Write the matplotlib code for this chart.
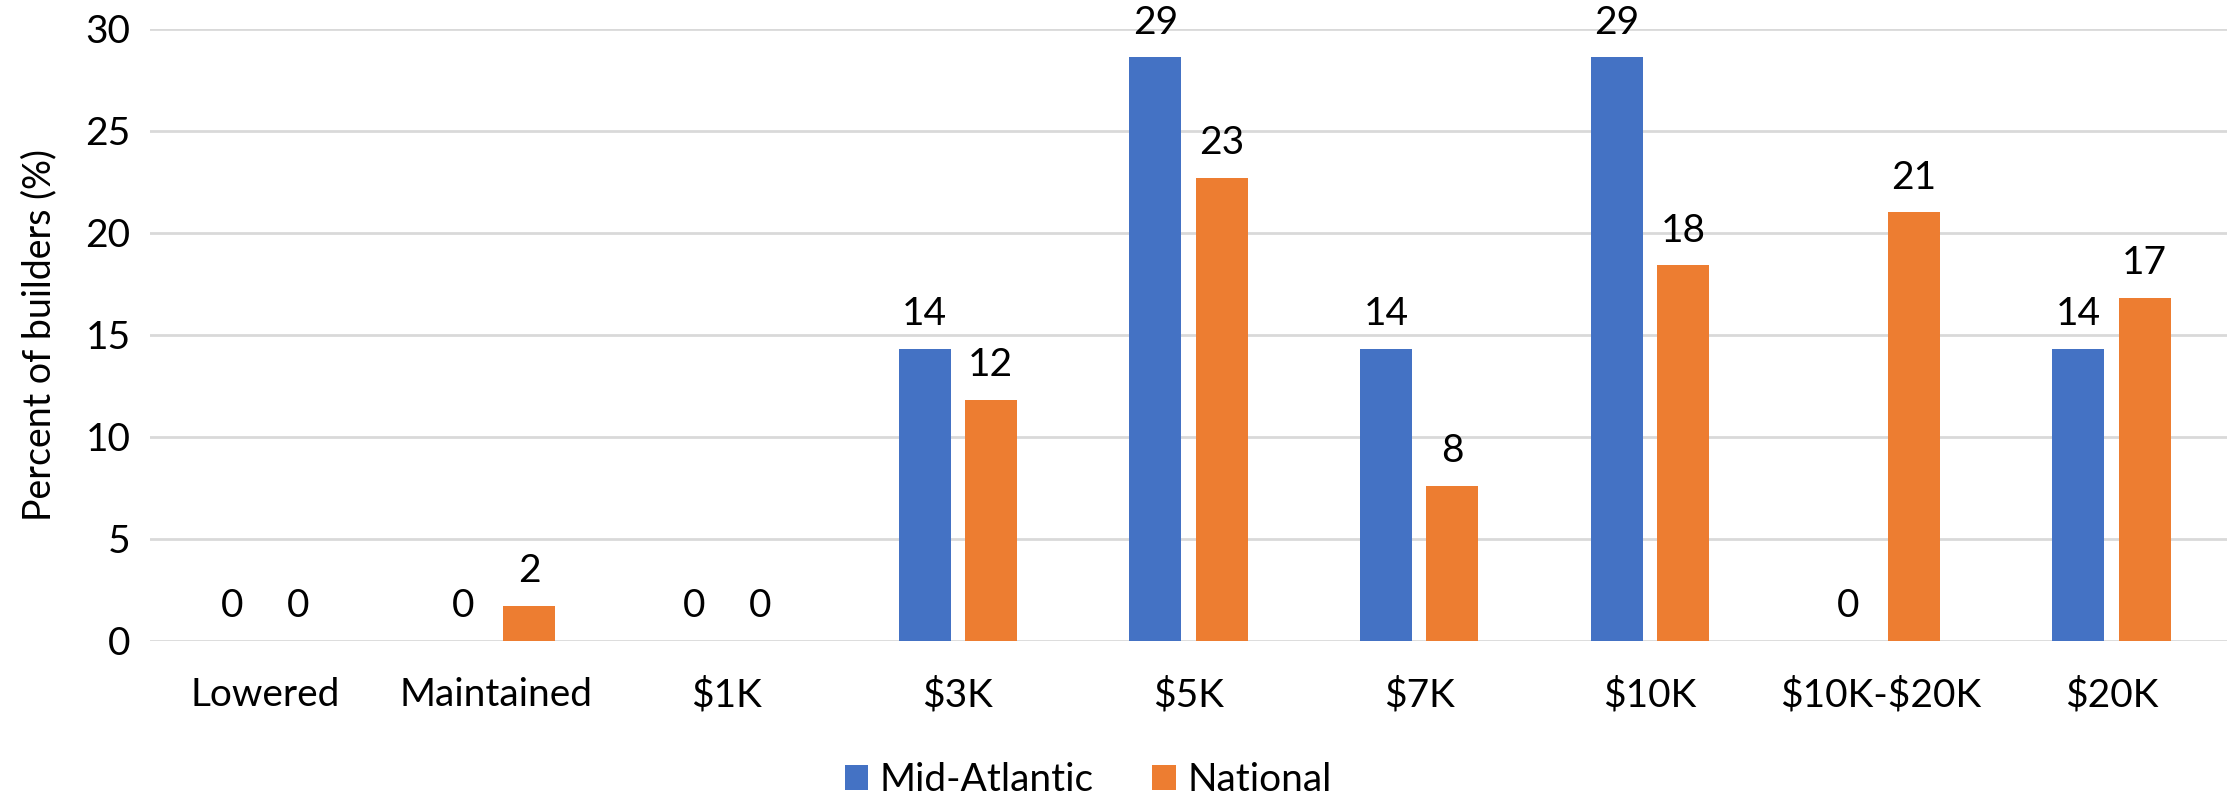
import matplotlib.pyplot as plt
import numpy as np

# survey categories and percent of builders per region
categories = ["Lowered", "Maintained", "$1K", "$3K", "$5K", "$7K", "$10K", "$10K-$20K", "$20K"]
mid_atlantic = [0, 0, 0, 14.3, 28.6, 14.3, 28.6, 0, 14.3]
national = [0, 1.7, 0, 11.8, 22.7, 7.6, 18.4, 21.0, 16.8]
series_names = ["Mid-Atlantic", "National"]

plt.rcParams['font.family'] = ['Lato', 'DejaVu Sans']
plt.rcParams['text.parse_math'] = False  # keep the "$" signs literal

fig = plt.figure(figsize=(22.39, 7.98), dpi=100)
ax = fig.add_axes([0.067, 0.197, 0.9276, 0.767])

x = np.arange(len(categories))
w = 0.225
bars1 = ax.bar(x - w / 2 - 0.031, mid_atlantic, w, color="#4472C4", label=series_names[0], zorder=3)
bars2 = ax.bar(x + w / 2 + 0.031, national, w, color="#ED7D31", label=series_names[1], zorder=3)

# value labels above every bar (rounded like the source table)
for bars in (bars1, bars2):
    for b in bars:
        h = b.get_height()
        ax.annotate("{:.0f}".format(h), (b.get_x() + b.get_width() / 2, h),
                    xytext=(0, 12), textcoords="offset points",
                    ha="center", va="bottom", fontsize=28, color="black")

ax.set_xlim(-0.5, len(categories) - 0.5)
ax.set_ylim(0, 30)
ax.set_yticks(np.arange(0, 31, 5))
ax.set_xticks(x)
ax.set_xticklabels(categories)
ax.tick_params(axis="both", length=0, labelsize=28, colors="black")
ax.tick_params(axis="x", pad=26)
ax.tick_params(axis="y", pad=14)
ax.grid(axis="y", color="#D9D9D9", linewidth=2, zorder=0)
for s in ax.spines.values():
    s.set_visible(False)

ax.set_ylabel("Percent of builders (%)", fontsize=27, labelpad=20)

fig.legend(handles=[bars1, bars2], labels=series_names,
           loc="lower center", bbox_to_anchor=(0.486, 0.0), ncol=2, frameon=False,
           fontsize=28, handlelength=0.6, handleheight=0.6, handletextpad=0.3,
           columnspacing=1.5, borderaxespad=0, borderpad=0)

fig.savefig("out.png", dpi=100)
